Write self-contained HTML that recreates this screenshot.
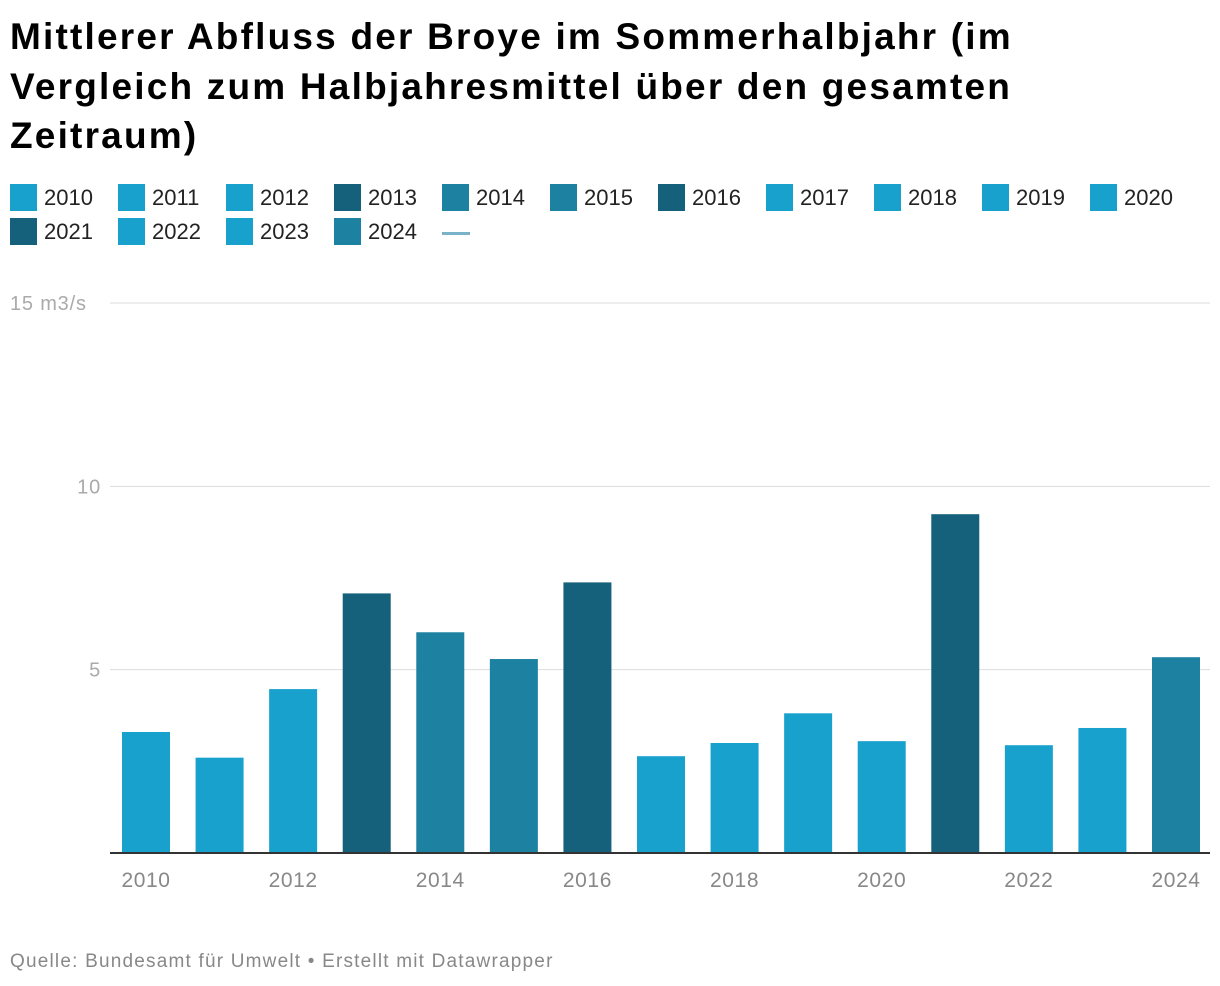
<!DOCTYPE html>
<html><head><meta charset="utf-8"><style>
body{margin:0;width:1220px;height:986px;background:#fff;font-family:"Liberation Sans",sans-serif;position:relative;overflow:hidden}
h1{position:absolute;left:10px;top:12px;margin:0;font-size:37px;line-height:49.5px;font-weight:bold;color:#000;width:1200px;letter-spacing:2.2px;white-space:nowrap}
.leg{position:absolute;font-size:22px;color:#222;height:27px;line-height:27px}
.sw{position:absolute;left:0;top:0;width:27px;height:27px}
.leg span.t{position:absolute;left:34px;top:0}
#foot{position:absolute;left:10px;top:951px;font-size:19px;color:#888;letter-spacing:1.2px}
</style></head><body>
<h1>Mittlerer Abfluss der Broye im Sommerhalbjahr (im<br>Vergleich zum Halbjahresmittel über den gesamten<br>Zeitraum)</h1>
<div id="legend"></div>
<div class="leg" style="left:442px;top:220px;width:28px"><div style="position:absolute;left:0;top:12px;width:28px;height:3px;background:#7ab3c9"></div></div>
<svg id="chart" width="1220" height="986" style="position:absolute;left:0;top:0"></svg>
<div id="foot">Quelle: Bundesamt für Umwelt • Erstellt mit Datawrapper</div>
<script>
const years=[2010,2011,2012,2013,2014,2015,2016,2017,2018,2019,2020,2021,2022,2023,2024];
const values=[3.3,2.6,4.47,7.08,6.02,5.29,7.38,2.64,3.0,3.81,3.05,9.24,2.94,3.41,5.34];
const shades=["l","l","l","d","m","m","d","l","l","l","l","d","l","l","m"];
const yTicks=[0,5,10,15];
const xLabels=[2010,2012,2014,2016,2018,2020,2022,2024];
const col={l:"#18a1cd",m:"#1d81a2",d:"#15607a"};
const NS="http://www.w3.org/2000/svg";
const svg=document.getElementById("chart");
const y=v=>853-v*(853-303)/15;
const x=i=>146+i*(1176-146)/14;
function mk(t,a){const e=document.createElementNS(NS,t);for(const k in a)e.setAttribute(k,a[k]);svg.appendChild(e);return e;}
yTicks.forEach(v=>{
 if(v>0){const g=mk("line",{x1:110,x2:1210,y1:y(v),y2:y(v),stroke:"#ddd","stroke-width":1});
 
 
 const t=mk("text",{x:v==15?10:101,y:y(v)+7,"font-size":20,fill:"#aaa","text-anchor":v==15?"start":"end","font-family":"Liberation Sans","letter-spacing":"0.8"});
 t.textContent=v==15?"15 m3/s":v;
 
 }
});
values.forEach((v,i)=>{
 const r=mk("rect",{x:x(i)-24,y:y(v),width:48,height:y(0)-y(v),fill:col[shades[i]]});
 
 
});
const ax=mk("line",{x1:110,x2:1210,y1:853,y2:853,stroke:"#333","stroke-width":2});


xLabels.forEach(yr=>{
 const i=years.indexOf(yr);
 const t=mk("text",{x:x(i),y:887,"font-size":21,fill:"#888","text-anchor":"middle","font-family":"Liberation Sans","letter-spacing":"0.6"});
 t.textContent=yr;
 
 
});
const lg=document.getElementById("legend");
years.forEach((yr,i)=>{
 const row=i<11?0:1, c=i<11?i:i-11;
 const d=document.createElement("div");
 d.className="leg";
 d.style.left=(10+c*108)+"px";d.style.top=(184+row*34)+"px";
 d.innerHTML='<div class="sw" style="background:'+col[shades[i]]+'"></div><span class="t">'+yr+'</span>';
 
 
 lg.appendChild(d);
});
</script>
</body></html>
